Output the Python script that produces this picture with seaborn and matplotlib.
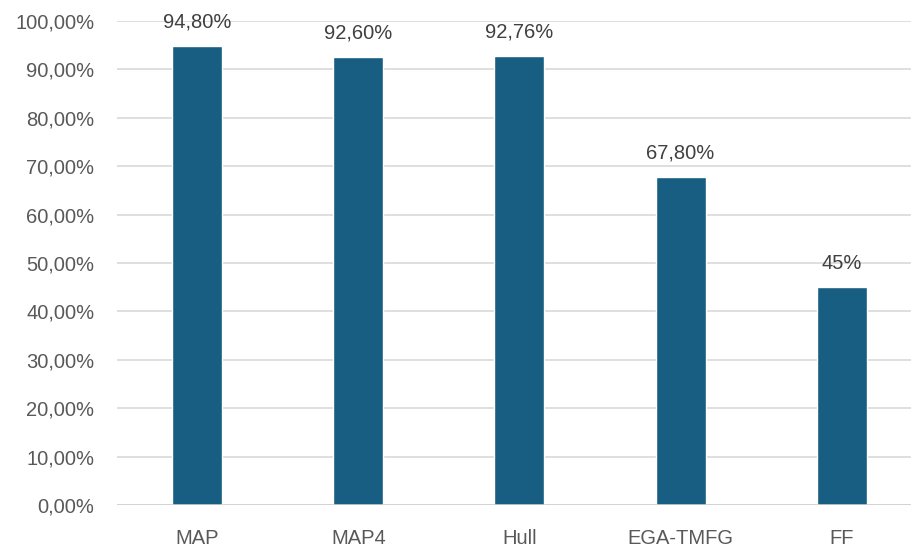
import matplotlib
matplotlib.use("Agg")
import matplotlib.pyplot as plt
import seaborn as sns
import pandas as pd

categories = ["MAP", "MAP4", "Hull", "EGA-TMFG", "FF"]
values = [94.80, 92.60, 92.76, 67.80, 45.0]
value_labels = ["94,80%", "92,60%", "92,76%", "67,80%", "45%"]
yticks = [0, 10, 20, 30, 40, 50, 60, 70, 80, 90, 100]
ytick_labels = ["0,00%", "10,00%", "20,00%", "30,00%", "40,00%", "50,00%",
                "60,00%", "70,00%", "80,00%", "90,00%", "100,00%"]

sns.set_style("white")
plt.rcParams['font.family'] = ['Liberation Sans', 'DejaVu Sans']

df = pd.DataFrame({"cat": categories, "val": values})

fig = plt.figure(figsize=(9.11, 5.49), dpi=100)
ax = fig.add_axes([0.128, 0.0801, 0.872, 0.8816])

sns.barplot(data=df, x="cat", y="val", color="#175E82", width=0.31,
            saturation=1, ax=ax, zorder=3)

ax.set_ylim(0, 100)
ax.set_xlim(-0.5, 4.43)
ax.set_yticks(yticks)
ax.set_yticklabels(ytick_labels)
ax.set_xlabel("")
ax.set_ylabel("")
ax.grid(axis="y", color="#D9D9D9", linewidth=1.2, zorder=0)
ax.axhline(0, color="#D0D0D0", linewidth=1.8, zorder=4)
for s in ax.spines.values():
    s.set_visible(False)
ax.tick_params(axis="both", length=0, labelsize=14.5, colors="#595959")
ax.tick_params(axis="x", pad=17)
ax.tick_params(axis="y", pad=16)

for i, (v, lab) in enumerate(zip(values, value_labels)):
    ax.annotate(lab, (i, v), xytext=(0, 10.5), textcoords="offset points",
                ha="center", va="bottom", fontsize=14.5, color="#404040",
                clip_on=False)

fig.savefig("out.png", dpi=100)
